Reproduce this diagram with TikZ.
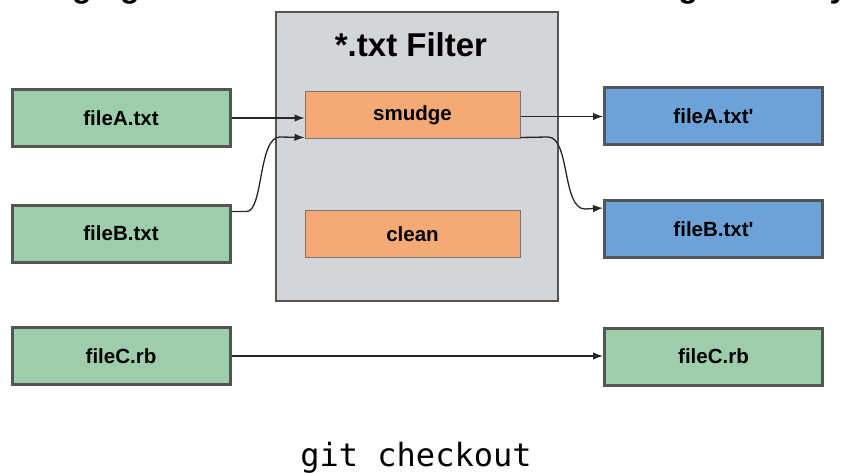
\documentclass[tikz,border=0pt]{standalone}
\usepackage{fontspec}
\setmainfont{Liberation Sans}
% a family without TeX ligature mapping, so ' stays a straight prime
\newfontfamily\labelfont{Liberation Sans}
\newfontfamily\codefont{DejaVu Sans Mono}
\usetikzlibrary{arrows.meta}

\definecolor{stagegreen}{RGB}{157,205,170}
\definecolor{workblue}{RGB}{108,162,216}
\definecolor{filterorange}{RGB}{245,170,118}
\definecolor{filtergray}{RGB}{212,213,216}
\definecolor{edgegray}{RGB}{85,85,85}

\tikzset{
  filebox/.style={draw=edgegray, line width=3pt, minimum width=218pt,
    minimum height=57pt, inner sep=0pt,
    font=\labelfont\fontsize{20.5}{22}\selectfont\bfseries},
  stagefile/.style={filebox, fill=stagegreen},
  workfile/.style={filebox, fill=workblue},
  filterstep/.style={draw=edgegray!80, line width=1pt, fill=filterorange,
    minimum width=215pt, minimum height=47pt, inner sep=0pt,
    font=\labelfont\fontsize{20.5}{22}\selectfont\bfseries},
  flow/.style={draw=black!85, line width=1.3pt,
    -{Latex[length=10pt,width=7.5pt]}},
  areatitle/.style={anchor=base, font=\fontsize{32}{34}\selectfont\bfseries}
}

\begin{document}
\begin{tikzpicture}[x=1pt, y=-1pt]
  \useasboundingbox (0,0) rectangle (853,473);
  \clip (0,0) rectangle (853,473);

  % area headings, set just above the top edge
  \node[areatitle] (stagehead) at (121,-2.5) {Staging Area};
  \node[areatitle] (workhead) at (709,-2.5) {Working Directory};

  % the filter driver
  \node[draw=edgegray, line width=2pt, fill=filtergray, minimum width=282pt,
        minimum height=288pt, inner sep=0pt] (filter) at (416.5,156.5) {};
  \node[anchor=base, font=\fontsize{33}{35}\selectfont\bfseries] (filtertitle)
        at (411,57) {*.txt Filter};
  \node[filterstep] (smudge) at (412.5,115.5) {smudge};
  \node[filterstep] (clean) at (412.5,234) {clean};

  % staged files
  \node[stagefile] (fa) at (121,118) {fileA.txt};
  \node[stagefile] (fb) at (121,233.5) {fileB.txt};
  \node[stagefile] (fc) at (121,356) {fileC.rb};

  % checked-out files
  \node[workfile] (fa2) at (713.5,116.5) {fileA.txt'};
  \node[workfile] (fb2) at (713.5,229) {fileB.txt'};
  \node[stagefile] (fc2) at (713.5,356.5) {fileC.rb};

  % flows through the filter
  \draw[flow] (fa.east) -- (smudge.west |- fa.east);
  \draw[flow] ([yshift=-8pt]fb.north east) -- ++(15,0)
        .. controls ++(17,0) and (258,137) .. (280,137)
        -- ([yshift=2pt]smudge.south west);
  \draw[flow] (smudge.east |- fa2.west) -- (fa2.west);
  \draw[flow] ([yshift=2pt]smudge.south east) -- (548,137)
        .. controls (570,137) and (562,209) .. (585,209)
        -- ([yshift=-9pt]fb2.north west);
  \draw[flow] (fc.east) -- (fc.east -| fc2.west);

  % command caption
  \node[anchor=base, font=\codefont\fontsize{32}{34}\selectfont] (cmd)
        at (416,466) {git checkout};
\end{tikzpicture}
\end{document}
